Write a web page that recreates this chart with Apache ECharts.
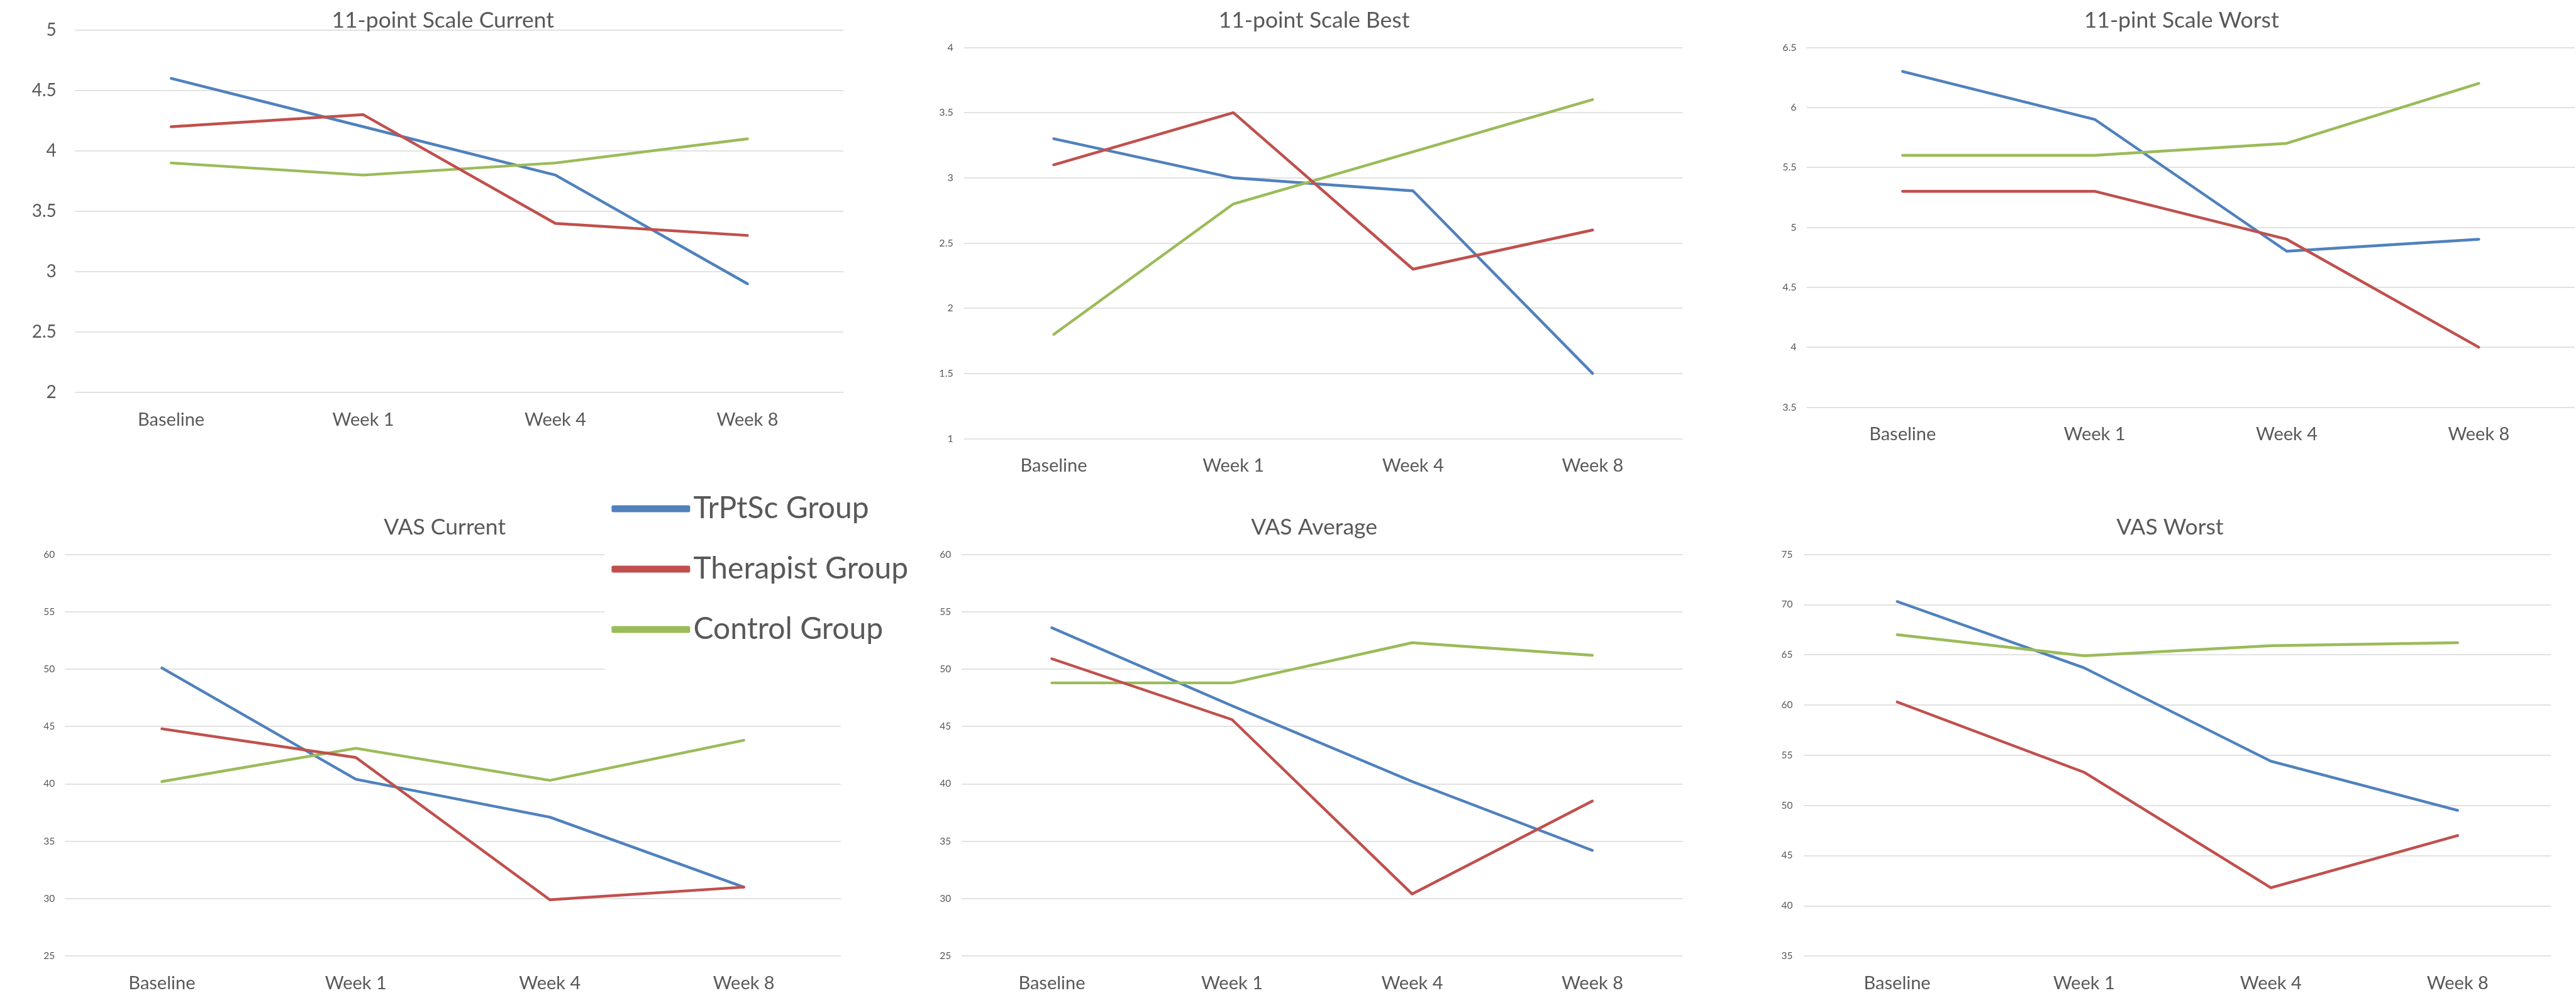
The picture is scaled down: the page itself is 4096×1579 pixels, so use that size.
<!DOCTYPE html>
<html><head><meta charset="utf-8">
<script src="https://cdn.jsdelivr.net/npm/echarts@6/dist/echarts.min.js"></script>
<style>html,body{margin:0;padding:0;background:#fff;overflow:hidden}#c{width:4096px;height:1579px}</style>
</head><body><div id="c"></div>
<script>
// ---- data ----
const categories = ['Baseline', 'Week 1', 'Week 4', 'Week 8'];
const groupNames = ['TrPtSc Group', 'Therapist Group', 'Control Group'];
const panelTitles = ['11-point Scale Current', '11-point Scale Best', '11-pint Scale Worst', 'VAS Current', 'VAS Average', 'VAS Worst'];
const yMin = [2, 1, 3.5, 25, 25, 35];
const yMax = [5, 4, 6.5, 60, 60, 75];
const yStep = [0.5, 0.5, 0.5, 5, 5, 5];

const scaleCurrentTrPtSc = [4.6, 4.2, 3.8, 2.9];
const scaleCurrentTherapist = [4.2, 4.3, 3.4, 3.3];
const scaleCurrentControl = [3.9, 3.8, 3.9, 4.1];
const scaleBestTrPtSc = [3.3, 3.0, 2.9, 1.5];
const scaleBestTherapist = [3.1, 3.5, 2.3, 2.6];
const scaleBestControl = [1.8, 2.8, 3.2, 3.6];
const scaleWorstTrPtSc = [6.3, 5.9, 4.8, 4.9];
const scaleWorstTherapist = [5.3, 5.3, 4.9, 4.0];
const scaleWorstControl = [5.6, 5.6, 5.7, 6.2];
const vasCurrentTrPtSc = [50.1, 40.4, 37.1, 31.0];
const vasCurrentTherapist = [44.8, 42.3, 29.9, 31.0];
const vasCurrentControl = [40.2, 43.1, 40.3, 43.8];
const vasAverageTrPtSc = [53.6, 46.8, 40.2, 34.2];
const vasAverageTherapist = [50.9, 45.6, 30.4, 38.5];
const vasAverageControl = [48.8, 48.8, 52.3, 51.2];
const vasWorstTrPtSc = [70.3, 63.7, 54.4, 49.5];
const vasWorstTherapist = [60.3, 53.3, 41.8, 47.0];
const vasWorstControl = [67.0, 64.9, 65.9, 66.2];

const panelData = [
  [scaleCurrentTrPtSc, scaleCurrentTherapist, scaleCurrentControl],
  [scaleBestTrPtSc, scaleBestTherapist, scaleBestControl],
  [scaleWorstTrPtSc, scaleWorstTherapist, scaleWorstControl],
  [vasCurrentTrPtSc, vasCurrentTherapist, vasCurrentControl],
  [vasAverageTrPtSc, vasAverageTherapist, vasAverageControl],
  [vasWorstTrPtSc, vasWorstTherapist, vasWorstControl]
];

// ---- layout / style ----
const FONT = 'Lato, "Open Sans", sans-serif';
const TEXT = '#595959';
const colors = ['#4F81BD', '#C0504D', '#9BBB59'];
const seriesZ = [2, 4, 3];
const gridBoxes = [
  {left: 119.4, top: 47.8, width: 1221.9, height: 576.4},
  {left: 1532.7, top: 75.4, width: 1142.5, height: 622.2},
  {left: 2872.5, top: 75.4, width: 1221.6, height: 572.0},
  {left: 103.2, top: 881.5, width: 1233.7, height: 638.6},
  {left: 1529.2, top: 881.5, width: 1146.0, height: 638.6},
  {left: 2868.1, top: 881.5, width: 1188.3, height: 638.6}
];
const titlePos = [
  {x: 704.2, y: 15}, {x: 2089.5, y: 15}, {x: 3468.7, y: 15},
  {x: 707.2, y: 820.5}, {x: 2089.6, y: 820.5}, {x: 3450.4, y: 820.5}
];
const yLabelSize = [28, 16, 16, 15.5, 15.5, 15.5];
const yLabelMargin = [29.6, 17, 16, 16, 17, 17.7];

const option = {
  animation: false,
  backgroundColor: '#ffffff',
  textStyle: {fontFamily: FONT},
  title: panelTitles.map((t, i) => ({
    text: t, left: titlePos[i].x, top: titlePos[i].y, textAlign: 'center', padding: 0,
    textStyle: {fontSize: 35.5, fontWeight: 'normal', color: TEXT, fontFamily: FONT}
  })),
  legend: {
    orient: 'vertical', left: 961.4, top: 765, padding: [20, 20, 60, 11],
    backgroundColor: '#ffffff', z: 10,
    icon: 'roundRect', itemWidth: 125, itemHeight: 11, itemGap: 48,
    textStyle: {fontSize: 48, lineHeight: 48, color: TEXT, fontFamily: FONT},
    data: groupNames.map((n, g) => ({name: n, itemStyle: {color: colors[g]}}))
  },
  grid: gridBoxes.map(b => Object.assign({containLabel: false, outerBoundsMode: 'none'}, b)),
  xAxis: gridBoxes.map((b, i) => ({
    type: 'category', gridIndex: i, data: categories, boundaryGap: true,
    axisLine: {show: false}, axisTick: {show: false},
    axisLabel: {fontSize: 29, color: TEXT, margin: 29, fontFamily: FONT},
    splitLine: {show: false}
  })),
  yAxis: gridBoxes.map((b, i) => ({
    type: 'value', gridIndex: i, min: yMin[i], max: yMax[i], interval: yStep[i],
    axisLine: {show: false}, axisTick: {show: false},
    axisLabel: {fontSize: yLabelSize[i], color: TEXT, margin: yLabelMargin[i], fontFamily: FONT},
    splitLine: {show: true, lineStyle: {color: '#D9D9D9', width: 1.5}}
  })),
  series: []
};

panelData.forEach((groups, i) => {
  groups.forEach((vals, g) => {
    option.series.push({
      type: 'line', name: groupNames[g], xAxisIndex: i, yAxisIndex: i,
      data: vals, symbol: 'none', silent: true, z: seriesZ[g],
      lineStyle: {width: 4.4, color: colors[g], cap: 'round', join: 'round'},
      itemStyle: {color: colors[g]}
    });
  });
});

const chart = echarts.init(document.getElementById('c'), null, {renderer: 'canvas'});
chart.setOption(option);
</script></body></html>
